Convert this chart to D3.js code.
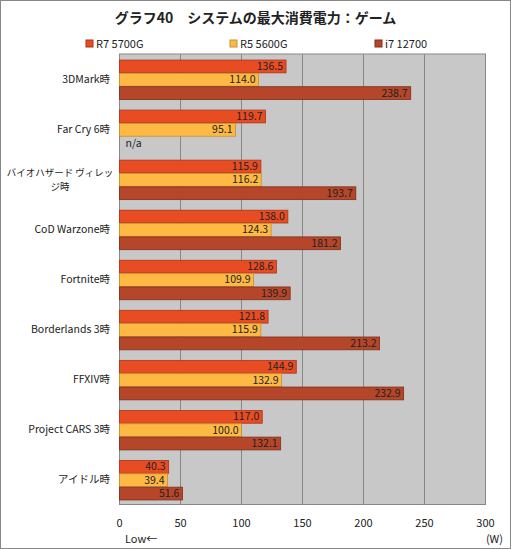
<!DOCTYPE html>
<html><head><meta charset="utf-8">
<script src="https://d3js.org/d3.v7.min.js"></script>
<style>body{margin:0;background:#fff}text{font-family:"Noto Sans CJK JP","Noto Sans",sans-serif}</style>
</head><body><div id="chart"></div>
<script>
const categories = ["3DMark時","Far Cry 6時","バイオハザード ヴィレッジ時","CoD Warzone時","Fortnite時","Borderlands 3時","FFXIV時","Project CARS 3時","アイドル時"];
const seriesNames = ["R7 5700G","R5 5600G","i7 12700"];
const r7 = [136.5,119.7,115.9,138.0,128.6,121.8,144.9,117.0,40.3];
const r5 = [114.0,95.1,116.2,124.3,109.9,115.9,132.9,100.0,39.4];
const i7 = [238.7,null,193.7,181.2,139.9,213.2,232.9,132.1,51.6];
const ticks = [0,50,100,150,200,250,300];
const colors = ["#e84c22","#fdb944","#b5462a"];
const strokes = ["#a8341a","#c8902c","#7e2e1a"];

const W = 511, H = 549;
const svg = d3.select("#chart").append("svg").attr("width", W).attr("height", H);
svg.append("rect").attr("x",0.5).attr("y",0.5).attr("width",W-1).attr("height",H-1).attr("fill","#fff").attr("stroke","#888");

const x = d3.scaleLinear().domain([0,300]).range([119.5,485.5]);
const y = d3.scaleBand().domain(categories).range([54,504.5]);
const sub = d3.scaleBand().domain([0,1,2]).range([5.5,y.bandwidth()-4]).padding(0.04);

svg.append("text").attr("x",W/2).attr("y",23).attr("text-anchor","middle")
  .attr("font-size",14).attr("font-weight","bold").attr("fill","#222").text("グラフ40　システムの最大消費電力：ゲーム");

const lx = [86,230,375];
seriesNames.forEach((n,i)=>{
  svg.append("rect").attr("x",lx[i]).attr("y",40).attr("width",7).attr("height",7).attr("fill",colors[i]).attr("stroke",strokes[i]);
  svg.append("text").attr("x",lx[i]+10).attr("y",48).attr("font-size",11).attr("fill","#222").text(n);
});

svg.append("rect").attr("x",x(0)).attr("y",54).attr("width",x(300)-x(0)).attr("height",450.5).attr("fill","#c8c8c8");
svg.append("g").selectAll("line").data(ticks.slice(1,-1)).join("line")
  .attr("x1",d=>x(d)).attr("x2",d=>x(d)).attr("y1",54).attr("y2",504.5).attr("stroke","#888");
svg.append("rect").attr("x",x(0)).attr("y",54).attr("width",x(300)-x(0)).attr("height",450.5).attr("fill","none").attr("stroke","#888");

const series = [r7,r5,i7];
series.forEach((vals,si)=>{
  const g = svg.append("g");
  categories.forEach((c,ci)=>{
    const v = vals[ci];
    const yy = y(c)+sub(si);
    if(v==null){
      g.append("text").attr("x",x(0)+6).attr("y",yy+sub.bandwidth()-3).attr("font-size",10.5).attr("fill","#222").text("n/a");
      return;
    }
    g.append("rect").attr("x",x(0)).attr("y",yy).attr("width",x(v)-x(0)).attr("height",sub.bandwidth())
      .attr("fill",colors[si]).attr("stroke",strokes[si]).attr("stroke-width",0.8);
    g.append("text").attr("x",x(v)-3).attr("y",yy+sub.bandwidth()-3).attr("text-anchor","end")
      .attr("font-size",10.5).attr("fill","#222").text(v.toFixed(1));
  });
});

const lab = svg.append("g").selectAll("text").data(categories).join("text")
  .attr("font-size",10.5).attr("fill","#222");
lab.each(function(d){
  const t = d3.select(this), cy = y(d)+y.bandwidth()/2+4;
  if(d.startsWith("バイオ")){
    t.attr("text-anchor","middle").attr("font-size",9.5);
    ["バイオハザード ヴィレッ","ジ時"].forEach((l,i)=>t.append("tspan").attr("x",60).attr("y",cy+(i-0.5)*14).text(l));
  } else {
    t.attr("text-anchor","end").attr("x",110).attr("y",cy).text(d);
  }
});

svg.append("g").selectAll("text").data(ticks).join("text")
  .attr("x",d=>x(d)).attr("y",527).attr("text-anchor","middle").attr("font-size",11).attr("fill","#222").text(d=>d);
svg.append("text").attr("x",125).attr("y",543).attr("font-size",11).attr("fill","#222").text("Low←");
svg.append("text").attr("x",503).attr("y",543).attr("text-anchor","end").attr("font-size",11).attr("fill","#222").text("(W)");
</script></body></html>
